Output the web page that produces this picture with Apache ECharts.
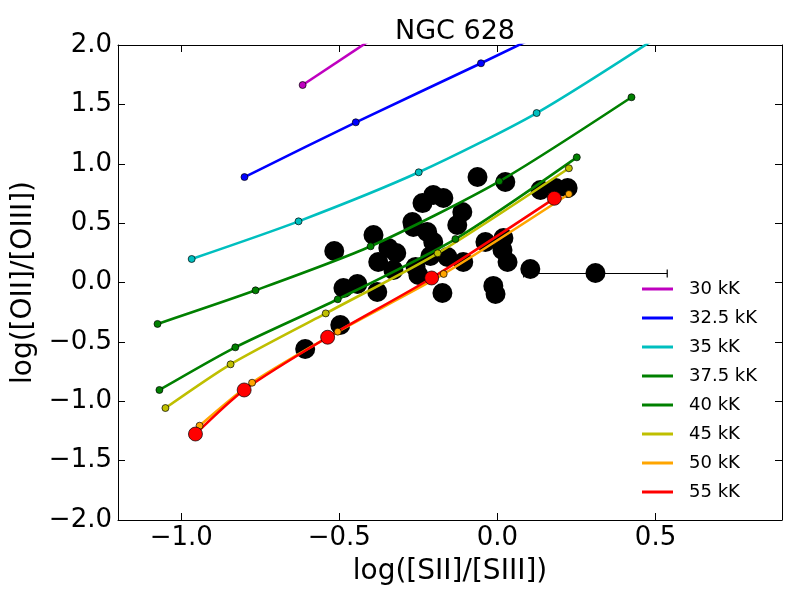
<!DOCTYPE html>
<html>
<head>
<meta charset="utf-8">
<script src="https://cdn.jsdelivr.net/npm/echarts@6/dist/echarts.min.js"></script>
<style>
html, body { margin: 0; padding: 0; background: #fff; }
#chart { width: 800px; height: 600px; }
</style>
</head>
<body>
<div id="chart"></div>
<script>
// observed line ratios (NGC 628 HII regions)
var obsX = [-0.516, -0.608, -0.497, -0.487, -0.443, -0.380, -0.392, -0.345, -0.320, -0.377,
            -0.329, -0.266, -0.237, -0.203, -0.171, -0.269, -0.222, -0.203, -0.111, -0.127,
            -0.259, -0.250, -0.158, -0.108, -0.174, -0.212, -0.063, 0.025, -0.038, 0.019,
            0.016, 0.032, 0.104, -0.013, -0.006, 0.136, 0.184, 0.222, 0.310];
var obsY = [0.265, -0.560, -0.358, -0.046, -0.013, -0.080, 0.400, 0.291, 0.248, 0.173,
            0.105, 0.467, 0.669, 0.737, 0.712, 0.509, 0.425, 0.341, 0.594, 0.484,
            0.131, 0.063, 0.215, 0.173, -0.088, 0.223, 0.888, 0.846, 0.341, 0.375,
            0.274, 0.173, 0.114, -0.029, -0.097, 0.779, 0.796, 0.796, 0.080];

// one horizontal error bar: [x, y, halfWidth]
var errBar = [[0.310, 0.080, 0.227]];

// photoionisation model tracks by stellar temperature
var modelNames = ['30 kK', '32.5 kK', '35 kK', '37.5 kK', '40 kK', '45 kK', '50 kK', '55 kK'];
var modelColors = ['#bf00bf', '#0000ff', '#00bfbf', '#008000', '#008000', '#bfbf00', '#ffa500', '#ff0000'];
var m30   = [[-0.616, 1.663], [-0.380, 2.080]];
var m325  = [[-0.800, 0.888], [-0.448, 1.349], [-0.052, 1.846], [0.300, 2.300]];
var m35   = [[-0.967, 0.198], [-0.629, 0.515], [-0.249, 0.928], [0.124, 1.427], [0.520, 2.090]];
var m375  = [[-1.075, -0.349], [-0.765, -0.066], [-0.401, 0.305], [0.006, 0.852], [0.424, 1.560]];
var m40   = [[-1.069, -0.905], [-0.829, -0.546], [-0.505, -0.141], [-0.133, 0.366], [0.251, 1.054]];
var m45   = [[-1.050, -1.057], [-0.844, -0.689], [-0.543, -0.260], [-0.189, 0.246], [0.226, 0.962]];
var m50   = [[-0.942, -1.206], [-0.776, -0.844], [-0.505, -0.414], [-0.170, 0.072], [0.226, 0.745]];
var m55   = [[-0.955, -1.276], [-0.801, -0.905], [-0.537, -0.461], [-0.208, 0.038], [0.180, 0.709]];
var modelData = [m30, m325, m35, m375, m40, m45, m50, m55];

var xTicks = [-1.0, -0.5, 0.0, 0.5];

var font = 'DejaVu Sans';
function fmt(v) {
    return (v < 0 ? '\u2212' : '') + Math.abs(v).toFixed(1);
}

var obsData = obsX.map(function (x, i) { return [x, obsY[i]]; });

var series = [{
    type: 'scatter',
    data: obsData,
    symbolSize: 20,
    itemStyle: { color: '#000', opacity: 1 },
    silent: true
}, {
    type: 'custom',
    data: errBar,
    renderItem: function (params, api) {
        var x = api.value(0), y = api.value(1), h = api.value(2);
        var a = api.coord([x - h, y]);
        var b = api.coord([x + h, y]);
        var yy = Math.round(a[1]) + 0.5;
        var st = { stroke: '#000', lineWidth: 1.2 };
        return {
            type: 'group',
            children: [
                { type: 'line', shape: { x1: a[0], y1: yy, x2: b[0], y2: yy }, style: st },
                { type: 'line', shape: { x1: a[0], y1: yy - 4, x2: a[0], y2: yy + 4 }, style: st },
                { type: 'line', shape: { x1: b[0], y1: yy - 4, x2: b[0], y2: yy + 4 }, style: st }
            ]
        };
    },
    silent: true
}];

modelNames.forEach(function (name, i) {
    series.push({
        type: 'line',
        name: name,
        data: modelData[i],
        smooth: 0.25,
        clip: true,
        showSymbol: true,
        symbol: 'circle',
        symbolSize: name === '55 kK' ? 14 : 7,
        lineStyle: { color: modelColors[i], width: 2.6 },
        itemStyle: { color: modelColors[i], borderColor: '#000', borderWidth: 0.7 },
        z: 3
    });
});

var axisCommon = {
    type: 'value',
    axisLine: { show: true, onZero: false, lineStyle: { color: '#000', width: 1 } },
    splitLine: { show: false }
};

var option = {
    animation: false,
    backgroundColor: '#fff',
    title: {
        text: 'NGC 628',
        left: 450,
        top: 13,
        textAlign: 'center',
        textStyle: { fontFamily: font, fontSize: 27, fontWeight: 'normal', color: '#000' }
    },
    legend: {
        data: modelNames,
        orient: 'vertical',
        left: 637,
        top: 274,
        icon: 'rect',
        itemWidth: 31,
        itemHeight: 3,
        itemGap: 9,
        itemStyle: { borderWidth: 0 },
        textStyle: { fontFamily: font, fontSize: 18, color: '#000', lineHeight: 20, padding: [0, 0, 0, 11] }
    },
    grid: { left: 118, right: 18, top: 45, bottom: 80 },
    xAxis: [
        Object.assign({}, axisCommon, {
            min: -1.2, max: 0.9,
            position: 'bottom',
            name: 'log([SII]/[SIII])',
            nameLocation: 'middle',
            nameGap: 38,
            nameTextStyle: { fontFamily: font, fontSize: 28, color: '#000' },
            axisTick: { show: true, inside: true, length: 7, customValues: xTicks, lineStyle: { color: '#000' } },
            axisLabel: { customValues: xTicks, formatter: fmt, fontFamily: font, fontSize: 26, color: '#000', margin: 5 }
        }),
        Object.assign({}, axisCommon, {
            min: -1.2, max: 0.9,
            position: 'top',
            axisTick: { show: true, inside: true, length: 7, customValues: xTicks, lineStyle: { color: '#000' } },
            axisLabel: { show: false }
        })
    ],
    yAxis: [
        Object.assign({}, axisCommon, {
            min: -2, max: 2, interval: 0.5,
            position: 'left',
            name: 'log([OII]/[OIII])',
            nameLocation: 'middle',
            nameGap: 63,
            nameTextStyle: { fontFamily: font, fontSize: 28, color: '#000' },
            axisTick: { show: true, inside: true, length: 7, lineStyle: { color: '#000' } },
            axisLabel: { formatter: fmt, fontFamily: font, fontSize: 26, color: '#000', margin: 6 }
        }),
        Object.assign({}, axisCommon, {
            min: -2, max: 2, interval: 0.5,
            position: 'right',
            axisTick: { show: true, inside: true, length: 7, lineStyle: { color: '#000' } },
            axisLabel: { show: false }
        })
    ],
    series: series
};

var chart = echarts.init(document.getElementById('chart'), null, { renderer: 'canvas' });
chart.setOption(option);
</script>
</body>
</html>
